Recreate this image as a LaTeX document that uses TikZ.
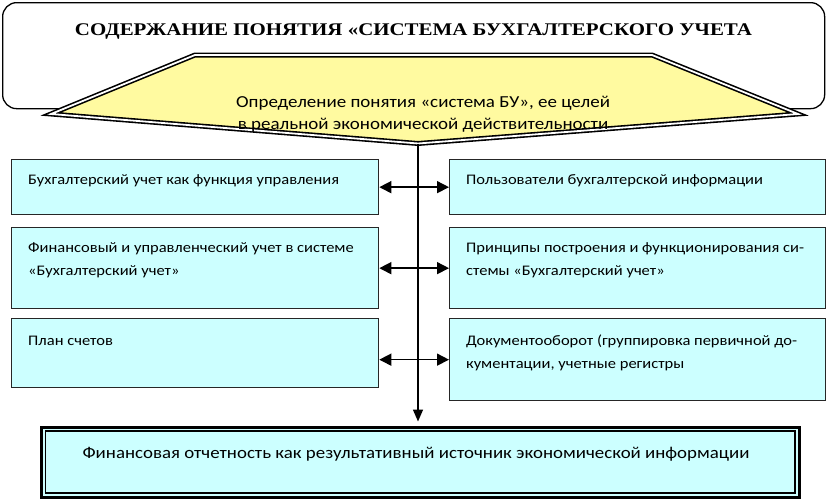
\documentclass[tikz,border=0pt]{standalone}
\usepackage{fontspec}
\setmainfont{Carlito}[FakeStretch=1.13]
\newfontfamily\titlefont{Liberation Serif}
\usetikzlibrary{arrows.meta}
\definecolor{boxcyan}{RGB}{204,255,255}
\definecolor{roofyellow}{RGB}{255,250,160}
\begin{document}
\begin{tikzpicture}[x=1pt,y=-1pt,
  box/.style={draw=black!85, line width=1.3pt, fill=boxcyan, anchor=north west,
    inner sep=0pt, outer sep=0.65pt},
  btext/.style={anchor=base west, inner sep=0pt, align=left,
    font=\fontsize{14.6}{23}\selectfont},
  ytext/.style={anchor=base, inner sep=0pt, font=\fontsize{16.8}{22}\selectfont},
  link/.style={line width=1.5pt,
    {Triangle[length=12pt,width=12pt]}-{Triangle[length=12pt,width=12pt]}},
  downarrow/.style={line width=1.5pt, -{Triangle[length=12pt,width=10pt]}},
  dbl/.style={draw=black, line width=1.6pt, double=white, double distance=1.8pt}
]
\useasboundingbox (0,0) rectangle (827,498);
\fill[white] (0,0) rectangle (827,498);

% top rounded frame
\node[draw=black, line width=1.3pt, fill=white, rounded corners=14pt,
  minimum width=822pt, minimum height=106pt, anchor=north west, inner sep=0pt]
  (frame) at (2,2) {};
\node[inner sep=0pt, anchor=base] (title) at (413.5,35)
  {\resizebox{677pt}{11.8pt}{\titlefont\bfseries СОДЕРЖАНИЕ ПОНЯТИЯ «СИСТЕМА БУХГАЛТЕРСКОГО УЧЕТА}};

% yellow arrow shape
\coordinate (ytl) at (195,55);
\coordinate (ytr) at (652,55);
\coordinate (yr) at (798,114);
\coordinate (tip) at (418,143.5);
\coordinate (yl) at (51,114);
\draw[dbl, fill=roofyellow, miter limit=20] (ytl) -- (ytr) -- (yr) -- (tip) -- (yl) -- cycle;
\node[ytext] (y1) at (423,107) {Определение понятия «система БУ», ее целей};
\node[ytext] (y2) at (423,129) {в реальной экономической действительности};

% left boxes
\node[box, minimum width=367pt, minimum height=55pt] (L1) at (11,159) {};
\node[box, minimum width=367pt, minimum height=81pt] (L2) at (11,227) {};
\node[box, minimum width=367pt, minimum height=69pt] (L3) at (11,318) {};
\node[btext] (tL1) at (28,184) {Бухгалтерский учет как функция управления};
\node[btext] (tL2) at (28,275) {Финансовый и управленческий учет в системе\\«Бухгалтерский учет»};
\node[btext] (tL3) at (28,345) {План счетов};

% right boxes
\node[box, minimum width=376pt, minimum height=55pt] (R1) at (449,159) {};
\node[box, minimum width=376pt, minimum height=81pt] (R2) at (449,227) {};
\node[box, minimum width=376pt, minimum height=82pt] (R3) at (449,318) {};
\node[btext] (tR1) at (466,184) {Пользователи бухгалтерской информации};
\node[btext] (tR2) at (466,275) {Принципы построения и функционирования си-\\стемы «Бухгалтерский учет»};
\node[btext] (tR3) at (466,368) {Документооборот (группировка первичной до-\\кументации, учетные регистры};

% bottom box (thick outer line, thin inner line)
\node[draw=black, line width=3pt, fill=boxcyan, minimum width=758pt, minimum height=70pt,
  anchor=north west, inner sep=0pt, outer sep=1.5pt] (fin) at (39.8,425.5) {};
\draw[black, line width=1.5pt] ([shift={(5.6,5.6)}]fin.north west) rectangle ([shift={(-5.6,-5.6)}]fin.south east);
\node[inner sep=0pt, anchor=base, font=\fontsize{16.7}{20}\selectfont] (tfin) at (416,458)
  {Финансовая отчетность как результативный источник экономической информации};

% connectors
\draw[downarrow, shorten >=4pt] (tip) -- (tip |- fin.north);
\draw[link] (L1.east) -- (R1.west);
\draw[link] (L2.east) -- (R2.west);
\draw[link] (L3.east |- R3.west) -- (R3.west);
\end{tikzpicture}
\end{document}
